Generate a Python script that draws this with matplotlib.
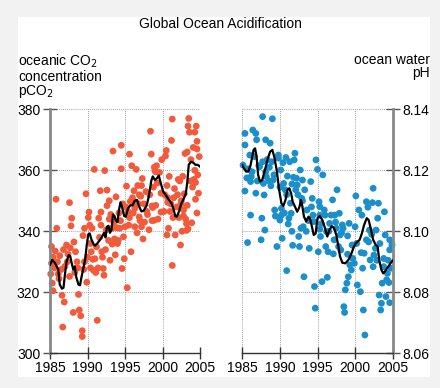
import matplotlib
matplotlib.use("Agg")
import matplotlib.pyplot as plt
from matplotlib.patches import Rectangle

plt.rcParams['font.family'] = ['Liberation Sans', 'DejaVu Sans']

# oceanic pCO2 samples (year, value)
co2_years = [
    1985.2, 1985.4, 1985.3, 1985.4, 1985.8, 1985.6, 1985.9, 1985.2,
    1986.2, 1986.3, 1986.6, 1986.8, 1986.9, 1986.7, 1986.5, 1986.1,
    1987.6, 1987.7, 1987.8, 1987.9, 1987.4, 1987.6, 1987.3,
    1988.1, 1988.4, 1988.8, 1988.6, 1988.3, 1988.9,
    1989.1, 1989.3, 1989.3, 1989.4, 1989.8, 1989.6, 1989.9, 1989.5,
    1990.2, 1990.1, 1990.3, 1990.5, 1990.7, 1990.9, 1990.8, 1990.4, 1990.6,
    1991.2, 1991.4, 1991.3, 1991.5, 1991.7, 1991.8, 1991.8, 1991.9, 1991.1, 1991.6,
    1992.1, 1992.2, 1992.3, 1992.6, 1992.6, 1992.9, 1992.4, 1992.8, 1992.5,
    1993.1, 1993.4, 1993.3, 1993.6, 1993.8, 1993.0, 1993.7, 1993.5, 1993.9,
    1994.2, 1994.5, 1994.5, 1994.8, 1994.6, 1994.4, 1994.9, 1994.1, 1994.7,
    1995.2, 1995.3, 1995.6, 1995.8, 1995.5, 1995.4, 1995.7, 1995.9, 1995.1,
    1996.2, 1996.5, 1996.3, 1996.7, 1996.9, 1996.1, 1996.6, 1996.4,
    1997.3, 1997.4, 1997.6, 1997.8, 1997.9, 1997.1, 1997.5, 1997.2,
    1998.0, 1998.4, 1998.5, 1998.7, 1998.6, 1998.2, 1998.8, 1998.3,
    1999.0, 1999.2, 1999.4, 1999.6, 1999.8, 1999.3, 1999.1,
    2000.2, 2000.4, 2000.5, 2000.6, 2000.8, 2000.9, 2000.3, 2000.7,
    2001.2, 2001.3, 2001.3, 2001.5, 2001.6, 2001.7, 2001.4, 2001.0, 2001.9,
    2002.1, 2002.4, 2002.6, 2002.8, 2002.9, 2002.2, 2002.7, 2002.5,
    2003.0, 2003.3, 2003.5, 2003.4, 2003.6, 2003.2, 2003.4, 2003.7, 2003.8, 2003.9, 2003.1,
    2004.1, 2004.3, 2004.5, 2004.6, 2004.7, 2004.4, 2004.8, 2004.2, 2004.9, 2004.6,
    1996.9, 1996.3, 1997.0, 1996.0, 1997.2, 1996.8, 1998.9, 1999.1, 1998.6, 1998.9,
    1999.8, 1999.9, 2000.6, 2000.7, 2001.1, 2002.0, 2002.3, 2002.5, 2002.8, 2003.2,
    2003.3, 2004.3, 2004.6, 2004.4, 2004.0,
    1985.1, 1985.7, 1986.0, 1987.0, 1987.2, 1988.2, 1988.7, 1989.6, 1990.0, 1990.4,
    1991.0, 1992.0, 1992.9, 1993.3, 1994.0, 1994.3, 1995.0, 1995.6,
]
co2_values = [
    335.0, 331.5, 323.0, 320.5, 350.5, 328.0, 341.0, 329.5,
    324.5, 332.0, 319.0, 334.0, 316.8, 308.6, 327.5, 326.0,
    349.4, 334.6, 341.8, 344.3, 332.5, 325.2, 330.0,
    313.4, 333.3, 319.3, 330.0, 326.5, 314.2,
    312.3, 307.4, 305.5, 338.6, 352.3, 341.0, 323.3, 327.5,
    346.3, 344.5, 342.0, 333.3, 330.8, 360.3, 327.2, 328.0, 341.0,
    334.9, 328.0, 310.8, 344.3, 353.3, 346.3, 342.0, 333.3, 326.5, 338.0,
    327.8, 325.6, 359.9, 353.5, 348.4, 350.0, 334.0, 337.0, 340.5,
    345.5, 366.3, 335.8, 337.5, 351.3, 330.5, 332.3, 343.0, 341.2,
    346.0, 368.2, 360.5, 338.2, 327.8, 343.5, 331.0, 337.0, 349.0,
    354.8, 321.5, 365.3, 333.3, 342.0, 346.5, 349.8, 361.5, 348.0,
    353.3, 360.3, 341.5, 355.0, 344.7, 346.0, 339.5, 349.5,
    357.3, 337.5, 343.0, 353.0, 346.5, 351.5, 349.0, 341.5,
    345.5, 372.8, 365.3, 347.8, 343.5, 340.5, 354.5, 352.0,
    359.8, 361.5, 344.0, 359.3, 352.5, 355.8, 348.5,
    346.5, 364.7, 366.5, 338.8, 341.0, 358.0, 352.0, 349.5,
    369.8, 376.8, 328.8, 351.0, 354.0, 338.8, 344.5, 346.5, 348.0,
    357.0, 335.5, 340.0, 347.0, 352.3, 344.5, 358.0, 349.0,
    365.5, 348.5, 377.0, 374.5, 372.5, 342.5, 340.8, 356.5, 363.5, 342.8, 344.0,
    367.5, 360.0, 374.5, 369.5, 358.5, 350.5, 352.5, 357.0, 364.5, 346.0,
    352.0, 347.5, 343.5, 351.0, 355.0, 349.0, 361.0, 359.5, 348.3, 343.6,
    346.3, 363.5, 355.0, 351.0, 349.0, 352.0, 356.5, 350.0, 345.0, 340.3,
    366.0, 372.5, 367.0, 356.0, 354.5,
    326.0, 333.5, 330.0, 328.5, 335.5, 336.5, 328.0, 330.0, 331.5, 336.0,
    331.0, 331.5, 344.0, 341.0, 336.0, 341.0, 341.5, 344.5,
]

# smoothed pCO2 curve
co2_trend_years = [
    1985.0, 1985.3, 1985.6, 1985.9, 1986.1, 1986.3, 1986.6, 1986.8, 1987.0, 1987.2,
    1987.5, 1987.7, 1987.9, 1988.1, 1988.3, 1988.5, 1988.8, 1989.0, 1989.2, 1989.5,
    1989.7, 1989.9, 1990.1, 1990.3, 1990.5, 1990.8, 1991.0, 1991.3, 1991.6, 1991.9,
    1992.2, 1992.4, 1992.6, 1992.8, 1993.0, 1993.2, 1993.4, 1993.6, 1993.8, 1994.0,
    1994.2, 1994.4, 1994.6, 1994.9, 1995.1, 1995.4, 1995.7, 1996.0, 1996.3, 1996.6,
    1996.9, 1997.2, 1997.5, 1997.9, 1998.2, 1998.5, 1998.7, 1999.0, 1999.3, 1999.5,
    1999.8, 2000.1, 2000.4, 2000.8, 2001.2, 2001.5, 2001.7, 2001.9, 2002.2, 2002.5,
    2002.8, 2003.1, 2003.3, 2003.5, 2003.8, 2004.1, 2004.4, 2004.7, 2005.0,
]
co2_trend = [
    329.0, 330.6, 329.8, 328.5, 327.5, 322.5, 321.2, 321.5, 326.0, 330.0,
    332.2, 331.8, 329.5, 327.5, 328.5, 325.0, 322.5, 322.3, 325.0, 328.5,
    331.0, 335.5, 339.0, 339.3, 337.5, 335.8, 335.3, 336.0, 337.0, 338.0,
    339.5, 338.0, 341.5, 341.8, 339.5, 340.5, 345.5, 345.0, 343.5, 343.0,
    347.0, 349.5, 348.0, 345.0, 344.8, 347.5, 348.5, 348.5, 350.0, 350.3,
    348.0, 346.5, 346.8, 348.5, 351.8, 356.5, 358.0, 356.8, 357.5, 358.3,
    355.5, 353.0, 352.0, 350.5, 349.2, 347.0, 345.0, 344.8, 346.5, 349.0,
    350.5, 352.3, 356.0, 361.8, 362.8, 362.5, 361.8, 361.8, 361.2,
]

# ocean water pH samples (year, value)
ph_years = [
    1985.35, 1985.35, 1985.1, 1985.35, 1985.7, 1986.0, 1986.1, 1986.1, 1986.4, 1986.8,
    1986.9, 1986.8, 1987.3, 1987.6, 1987.5, 1987.7, 1987.7, 1987.8, 1987.9, 1988.0,
    1988.1, 1988.2, 1988.7, 1988.8, 1988.9, 1989.0, 1989.1, 1989.3, 1989.4, 1989.6,
    1989.8, 1990.0, 1990.1, 1990.2, 1990.2, 1990.3, 1990.4, 1990.5, 1990.7, 1990.8,
    1990.9, 1991.0, 1991.1, 1991.2, 1991.3, 1991.4, 1991.5, 1991.6, 1991.7, 1991.8,
    1991.9, 1992.0, 1992.1, 1992.2, 1992.3, 1992.5, 1992.6, 1992.7, 1992.8, 1992.9,
    1993.0, 1993.1, 1993.2, 1993.3, 1993.5, 1993.6, 1993.9, 1994.1, 1994.3, 1994.4,
    1994.5, 1994.6, 1994.7, 1994.8, 1995.0, 1995.1, 1995.2, 1995.3, 1995.3, 1995.3,
    1995.4, 1995.6, 1995.7, 1995.9, 1996.0, 1996.1, 1996.2, 1996.3, 1996.4, 1996.6,
    1996.8, 1997.0, 1997.1, 1997.2, 1997.3, 1997.5, 1997.6, 1997.8, 1997.9, 1998.0,
    1998.1, 1998.3, 1998.4, 1998.5, 1998.6, 1998.7, 1998.9, 1999.0, 1999.1, 1999.2,
    1999.3, 1999.5, 1999.7, 1999.9, 2000.0, 2000.1, 2000.3, 2000.5, 2000.7, 2000.9,
    2001.0, 2001.1, 2001.2, 2001.3, 2001.5, 2001.5, 2001.7, 2001.9, 2002.0, 2002.3,
    2002.4, 2002.4, 2002.5, 2002.7, 2002.8, 2003.0, 2003.1, 2003.2, 2003.4, 2003.5,
    2003.6, 2003.8, 2003.8, 2003.9, 2004.0, 2004.1, 2004.2, 2004.3, 2004.5, 2004.6,
    2004.6, 2004.6, 2004.8, 1985.6, 1987.2, 1988.1, 1986.3, 1989.8, 1988.5, 1990.6,
    1985.8, 1986.2, 1986.6, 1987.0, 1988.3, 1988.6, 1989.2, 1990.0, 1990.9, 1991.6,
    1992.4, 1993.0, 1993.8, 1994.2, 1995.5, 1996.5, 1997.4, 1998.2, 1999.0, 1999.6,
    2000.2, 2000.8, 2001.8, 2002.2, 2002.9, 2003.3, 2004.4, 2004.9,
]
ph_values = [
    8.1321, 8.1283, 8.1217, 8.1132, 8.0963, 8.1250, 8.1163, 8.1053, 8.1332, 8.1321,
    8.1300, 8.1125, 8.1212, 8.1043, 8.0972, 8.1376, 8.1228, 8.1157, 8.1119, 8.1004,
    8.1300, 8.1179, 8.1289, 8.1149, 8.1228, 8.1369, 8.1168, 8.1070, 8.1050, 8.0950,
    8.1250, 8.1037, 8.1201, 8.1075, 8.1053, 8.0977, 8.1225, 8.1157, 8.1136, 8.1242,
    8.0871, 8.1181, 8.1024, 8.1043, 8.1228, 8.1092, 8.1059, 8.1000, 8.0954, 8.1177,
    8.1234, 8.1256, 8.1136, 8.1174, 8.1152, 8.0983, 8.0950, 8.1201, 8.1010, 8.1108,
    8.1168, 8.1015, 8.0851, 8.1136, 8.1000, 8.1070, 8.0944, 8.1163, 8.1108, 8.1053,
    8.1032, 8.0819, 8.0748, 8.1234, 8.1203, 8.0933, 8.1097, 8.1081, 8.1053, 8.1007,
    8.0983, 8.0835, 8.1185, 8.1070, 8.1053, 8.0950, 8.0999, 8.0849, 8.0933, 8.1026,
    8.1053, 8.1103, 8.0926, 8.0972, 8.1053, 8.1010, 8.1136, 8.0950, 8.1059, 8.0988,
    8.0939, 8.1021, 8.1010, 8.0753, 8.0734, 8.0808, 8.0830, 8.0985, 8.0851, 8.1026,
    8.0890, 8.0873, 8.0911, 8.0895, 8.1015, 8.1116, 8.0824, 8.1070, 8.0802, 8.1053,
    8.0879, 8.0742, 8.0928, 8.0660, 8.1097, 8.0972, 8.1079, 8.1004, 8.0906, 8.1094,
    8.1141, 8.0884, 8.0922, 8.0944, 8.1004, 8.1043, 8.1092, 8.0791, 8.0742, 8.0764,
    8.0830, 8.0911, 8.0884, 8.1064, 8.0988, 8.0786, 8.0841, 8.0862, 8.0832, 8.0766,
    8.0972, 8.0939, 8.0879, 8.1175, 8.1215, 8.1195, 8.1195, 8.1240, 8.1165, 8.1060,
    8.1205, 8.1180, 8.1245, 8.1165, 8.1235, 8.1210, 8.1185, 8.1145, 8.1120, 8.1155,
    8.1120, 8.1100, 8.1035, 8.1080, 8.1025, 8.1000, 8.1030, 8.0995, 8.0925, 8.0955,
    8.0960, 8.0930, 8.0965, 8.0990, 8.0905, 8.0960, 8.0905, 8.0955,
]

# smoothed pH curve
ph_trend_years = [
    1985.0, 1985.2, 1985.5, 1985.8, 1986.1, 1986.5, 1986.7, 1986.9, 1987.1, 1987.35,
    1987.65, 1988.0, 1988.4, 1988.7, 1989.0, 1989.3, 1989.6, 1989.9, 1990.2, 1990.45,
    1990.75, 1991.0, 1991.25, 1991.5, 1991.7, 1992.0, 1992.3, 1992.6, 1992.8, 1993.0,
    1993.2, 1993.5, 1993.8, 1994.0, 1994.2, 1994.5, 1994.75, 1995.0, 1995.3, 1995.65,
    1996.0, 1996.3, 1996.6, 1996.9, 1997.2, 1997.5, 1997.7, 1998.0, 1998.3, 1998.7,
    1999.1, 1999.5, 1999.8, 2000.1, 2000.6, 2000.9, 2001.2, 2001.55, 2001.8, 2002.1,
    2002.4, 2002.75, 2003.0, 2003.2, 2003.5, 2003.75, 2004.05, 2004.4, 2004.7, 2005.0,
]
ph_trend = [
    8.1217, 8.1207, 8.1196, 8.1196, 8.1217, 8.1267, 8.1272, 8.1245, 8.1185, 8.1163,
    8.1168, 8.1200, 8.1239, 8.1261, 8.1267, 8.1239, 8.1196, 8.1136, 8.1092, 8.1083,
    8.1103, 8.1136, 8.1141, 8.1124, 8.1097, 8.1081, 8.1064, 8.1080, 8.1103, 8.1080,
    8.1048, 8.1032, 8.1048, 8.1043, 8.1021, 8.0988, 8.0993, 8.1043, 8.1050, 8.1037,
    8.1010, 8.0983, 8.1005, 8.1017, 8.1010, 8.0988, 8.0961, 8.0917, 8.0897, 8.0895,
    8.0906, 8.0926, 8.0947, 8.0961, 8.0972, 8.0993, 8.1021, 8.1043, 8.1037, 8.1007,
    8.0972, 8.0955, 8.0950, 8.0906, 8.0873, 8.0862, 8.0871, 8.0884, 8.0895, 8.0904,
]

year_ticks = [1985, 1990, 1995, 2000, 2005]
co2_ticks = [300, 320, 340, 360, 380]
ph_ticks = [8.06, 8.08, 8.10, 8.12, 8.14]
ph_labels = ['8.06', '8.08', '8.10', '8.12', '8.14']

W, H = 440, 388
fig = plt.figure(figsize=(4.4, 3.88), dpi=100)
fig.patch.set_facecolor('#f2f2f2')
fig.patches.append(Rectangle((18 / W, 1 - 377 / H), 412 / W, 360 / H,
                             transform=fig.transFigure, facecolor='white',
                             edgecolor='none', zorder=-5))

ax1 = fig.add_axes([50 / W, 1 - 353.3 / H, 150 / W, 244 / H])
ax2 = fig.add_axes([242.3 / W, 1 - 353.3 / H, 150.4 / W, 244 / H])

grid_kw = dict(color='#808080', linestyle=(0, (1, 1.5)), linewidth=0.6)
fs = 10


def style(ax, side):
    ax.set_facecolor('none')
    ax.set_xlim(1985, 2005)
    ax.set_xticks(year_ticks)
    for s in ['top', 'left', 'right']:
        ax.spines[s].set_visible(False)
    ax.spines['bottom'].set_color('#333333')
    ax.spines['bottom'].set_linewidth(1.0)
    ax.spines[side].set_visible(True)
    ax.spines[side].set_color('#888888')
    ax.spines[side].set_linewidth(2.0)
    ax.tick_params(axis='x', direction='inout', length=9, width=1, color='#333333',
                   labelsize=fs, pad=1)
    ax.tick_params(axis='y', direction='inout', length=10, width=1, color='#555555',
                   labelsize=fs, pad=2)
    ax.set_axisbelow(True)


style(ax1, 'left')
ax1.set_ylim(300, 380)
ax1.set_yticks(co2_ticks)
for v in co2_ticks[1:]:
    ax1.axhline(v, zorder=0, **grid_kw)
for yr in year_ticks[1:]:
    ax1.axvline(yr, zorder=0, **grid_kw)
ax1.scatter(co2_years, co2_values, s=24, color='#f15a3b', edgecolors='none',
            zorder=2, clip_on=False)
ax1.plot(co2_trend_years, co2_trend, color='black', linewidth=1.6, zorder=3)

style(ax2, 'right')
ax2.yaxis.tick_right()
ax2.set_ylim(8.06, 8.14)
ax2.set_yticks(ph_ticks)
ax2.set_yticklabels(ph_labels)
for v in ph_ticks[1:]:
    ax2.axhline(v, zorder=0, **grid_kw)
for yr in year_ticks[:-1]:
    ax2.axvline(yr, zorder=0, **grid_kw)
ax2.scatter(ph_years, ph_values, s=24, color='#1a8fc9', edgecolors='none',
            zorder=2, clip_on=False)
ax2.plot(ph_trend_years, ph_trend, color='black', linewidth=1.6, zorder=3)

fig.text(220 / W, 1 - 24 / H, 'Global Ocean Acidification', ha='center',
         va='center', fontsize=fs)
fig.text(18 / W, 1 - 53 / H, 'oceanic CO$_2$\nconcentration\npCO$_2$',
         ha='left', va='top', fontsize=fs, linespacing=0.95)
fig.text(430 / W, 1 - 53 / H, 'ocean water\npH', ha='right', va='top',
         fontsize=fs, linespacing=0.95)

fig.savefig('out.png', dpi=100, facecolor=fig.get_facecolor())
